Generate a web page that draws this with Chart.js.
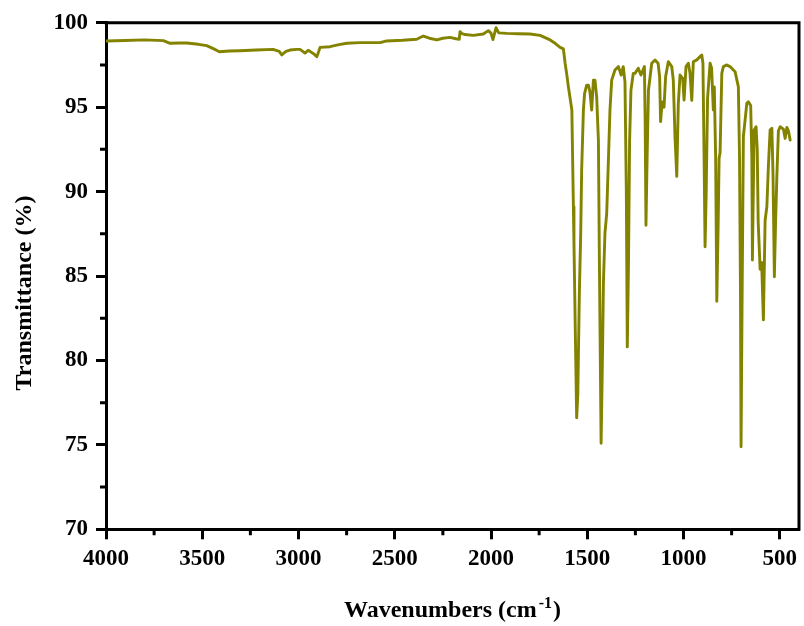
<!DOCTYPE html>
<html>
<head>
<meta charset="utf-8">
<title>FTIR spectrum</title>
<script src="https://cdn.jsdelivr.net/npm/chart.js@4.4.0/dist/chart.umd.min.js"></script>
<style>
  html, body { margin: 0; padding: 0; background: #ffffff; }
  #wrap { width: 804px; height: 626px; }
</style>
</head>
<body>
<div id="wrap"><canvas id="ftir-chart" width="804" height="626"></canvas></div>
<script>
// wavenumber (cm-1) and transmittance (%) of the measured spectrum
const wavenumbers = [
  4000, 3900, 3800, 3702, 3667, 3620, 3581, 3520, 3477, 3440,
  3411, 3360, 3304, 3220, 3132, 3100, 3087, 3065, 3044, 3010,
  2992, 2966, 2950, 2940, 2920, 2905, 2895, 2888, 2836, 2790,
  2749, 2680, 2576, 2542, 2460, 2386, 2351, 2320, 2281, 2250,
  2213, 2182, 2165, 2161, 2150, 2135, 2092, 2040, 2014, 2000,
  1990, 1974, 1960, 1918, 1860, 1797, 1745, 1693, 1667, 1641,
  1624, 1615, 1606, 1598, 1590, 1580, 1572, 1569, 1563, 1555,
  1549, 1541, 1534, 1529, 1520, 1514, 1503, 1494, 1486, 1477,
  1468, 1460, 1451, 1442, 1437, 1428, 1420, 1416, 1408, 1399,
  1390, 1382, 1373, 1356, 1338, 1324, 1313, 1304, 1297, 1292,
  1286, 1280, 1273, 1261, 1252, 1235, 1221, 1203, 1199, 1195,
  1189, 1182, 1165, 1148, 1132, 1124, 1119, 1111, 1101, 1093,
  1079, 1061, 1053, 1044, 1035, 1027, 1018, 1004, 997, 987,
  975, 966, 957, 949, 931, 914, 905, 899, 893, 888,
  882, 875, 862, 854, 845, 840, 833, 827, 820, 815,
  810, 801, 793, 775, 758, 732, 715, 709, 704, 701,
  696, 689, 671, 663, 651, 645, 642, 638, 633, 623,
  617, 612, 602, 594, 585, 576, 567, 559, 550, 541,
  535, 528, 522, 515, 507, 498, 481, 472, 463, 455,
  446
];
const transmittance = [
  98.92, 98.95, 98.98, 98.94, 98.78, 98.80, 98.80, 98.72, 98.64, 98.45,
  98.28, 98.32, 98.34, 98.38, 98.42, 98.30, 98.09, 98.30, 98.38, 98.42,
  98.42, 98.20, 98.36, 98.30, 98.15, 97.99, 98.30, 98.54, 98.58, 98.70,
  98.78, 98.82, 98.82, 98.92, 98.96, 99.02, 99.21, 99.08, 98.98, 99.08,
  99.13, 99.05, 99.02, 99.47, 99.35, 99.30, 99.25, 99.33, 99.53, 99.38,
  99.00, 99.70, 99.40, 99.37, 99.35, 99.33, 99.25, 98.98, 98.78, 98.54,
  98.45, 97.60, 96.90, 96.20, 95.60, 94.83, 89.10, 86.95, 82.40, 76.60,
  78.00, 84.00, 87.50, 91.30, 94.83, 95.80, 96.30, 96.30, 95.90, 94.83,
  96.60, 96.60, 95.60, 93.00, 85.95, 75.09, 80.90, 84.60, 87.55, 88.70,
  91.90, 94.83, 96.60, 97.20, 97.40, 96.90, 97.40, 96.50, 90.00, 80.80,
  85.50, 93.00, 96.00, 97.00, 97.00, 97.30, 96.90, 97.40, 94.00, 88.00,
  92.00, 96.00, 97.60, 97.79, 97.60, 96.80, 94.14, 95.30, 95.00, 96.80,
  97.69, 97.40, 96.60, 93.20, 90.90, 95.20, 96.90, 96.70, 95.42, 97.40,
  97.60, 97.00, 95.40, 97.69, 97.80, 97.99, 98.09, 97.60, 92.00, 86.73,
  90.00, 95.50, 97.60, 97.30, 94.83, 96.20, 92.00, 83.50, 88.00, 92.00,
  92.30, 97.00, 97.40, 97.50, 97.40, 97.10, 96.20, 92.00, 84.00, 74.89,
  83.00, 93.25, 95.23, 95.32, 95.10, 92.00, 85.95, 89.50, 93.65, 93.84,
  92.50, 88.20, 85.40, 85.80, 82.40, 88.30, 89.10, 91.50, 93.65, 93.75,
  91.00, 84.96, 88.00, 90.90, 93.60, 93.84, 93.70, 93.15, 93.80, 93.60,
  93.05
];

const xTickValues = [4000, 3500, 3000, 2500, 2000, 1500, 1000, 500];
const xMinorTicks = [3750, 3250, 2750, 2250, 1750, 1250, 750];
const yTickValues = [70, 75, 80, 85, 90, 95, 100];
const yMinorTicks = [72.5, 77.5, 82.5, 87.5, 92.5, 97.5];

const xTitle = "Wavenumbers (cm";
const xTitleSup = "-1";
const xTitleEnd = ")";
const yTitle = "Transmittance (%)";

const serif = "'Liberation Serif', 'Times New Roman', serif";
const lineColor = "#838300";

const points = wavenumbers.map((w, i) => ({ x: w, y: transmittance[i] }));

// closes the box on top/right, adds the short minor ticks and the axis titles
const framePlugin = {
  id: "frameAndTitles",
  afterDraw(chart) {
    const { ctx, chartArea, scales } = chart;
    const xScale = scales.x;
    const yScale = scales.y;

    ctx.save();
    ctx.strokeStyle = "#000000";
    ctx.lineWidth = 3;
    ctx.lineCap = "square";
    ctx.beginPath();
    ctx.moveTo(chartArea.left, chartArea.top);
    ctx.lineTo(chartArea.right, chartArea.top);
    ctx.lineTo(chartArea.right, chartArea.bottom);
    ctx.stroke();

    ctx.lineCap = "butt";
    ctx.beginPath();
    xMinorTicks.forEach((v) => {
      const x = xScale.getPixelForValue(v);
      ctx.moveTo(x, chartArea.bottom);
      ctx.lineTo(x, chartArea.bottom + 6);
    });
    yMinorTicks.forEach((v) => {
      const y = yScale.getPixelForValue(v);
      ctx.moveTo(chartArea.left, y);
      ctx.lineTo(chartArea.left - 6, y);
    });
    ctx.stroke();

    ctx.fillStyle = "#000000";
    const titleFont = `bold 24px ${serif}`;
    const supFont = `bold 16px ${serif}`;

    // y title, rotated
    ctx.save();
    ctx.font = titleFont;
    ctx.textAlign = "center";
    ctx.textBaseline = "middle";
    ctx.translate(25, 293);
    ctx.rotate(-Math.PI / 2);
    ctx.fillText(yTitle, 0, 0);
    ctx.restore();

    // x title with superscript
    ctx.font = titleFont;
    const w1 = ctx.measureText(xTitle).width;
    const w3 = ctx.measureText(xTitleEnd).width;
    ctx.font = supFont;
    const w2 = ctx.measureText(xTitleSup).width + 3;
    const start = (chartArea.left + chartArea.right) / 2 - (w1 + w2 + w3) / 2;
    const baseline = 617;
    ctx.textAlign = "left";
    ctx.textBaseline = "alphabetic";
    ctx.font = titleFont;
    ctx.fillText(xTitle, start, baseline);
    ctx.font = supFont;
    ctx.fillText(xTitleSup, start + w1 + 2, baseline - 9);
    ctx.font = titleFont;
    ctx.fillText(xTitleEnd, start + w1 + w2, baseline);
    ctx.restore();
  },
};

const tickFont = { family: serif, size: 23, weight: "bold" };

new Chart(document.getElementById("ftir-chart"), {
  type: "line",
  data: {
    datasets: [
      {
        label: "FTIR",
        data: points,
        borderColor: lineColor,
        borderWidth: 2.9,
        borderJoinStyle: "round",
        borderCapStyle: "round",
        tension: 0,
        pointRadius: 0,
        fill: false,
      },
    ],
  },
  options: {
    responsive: false,
    animation: false,
    devicePixelRatio: 1,
    layout: { padding: { top: 22.7, right: 5, left: 0, bottom: 0 } },
    plugins: {
      legend: { display: false },
      tooltip: { enabled: false },
    },
    scales: {
      x: {
        type: "linear",
        reverse: true,
        min: 400,
        max: 4000,
        afterBuildTicks(scale) {
          scale.ticks = xTickValues.map((value) => ({ value }));
        },
        afterFit(scale) {
          scale.height = 96.7;
        },
        ticks: {
          autoSkip: false,
          maxRotation: 0,
          padding: 6,
          color: "#000000",
          font: tickFont,
          callback: (value) => String(value),
        },
        grid: {
          drawOnChartArea: false,
          drawTicks: true,
          tickLength: 10,
          tickWidth: 3,
          tickColor: "#000000",
        },
        border: { display: true, width: 3, color: "#000000" },
      },
      y: {
        type: "linear",
        min: 70,
        max: 100,
        afterBuildTicks(scale) {
          scale.ticks = yTickValues.map((value) => ({ value }));
        },
        afterFit(scale) {
          scale.width = 106;
        },
        ticks: {
          padding: 8,
          color: "#000000",
          font: tickFont,
          callback: (value) => String(value),
        },
        grid: {
          drawOnChartArea: false,
          drawTicks: true,
          tickLength: 10,
          tickWidth: 3,
          tickColor: "#000000",
        },
        border: { display: true, width: 3, color: "#000000" },
      },
    },
  },
  plugins: [framePlugin],
});
</script>
</body>
</html>
